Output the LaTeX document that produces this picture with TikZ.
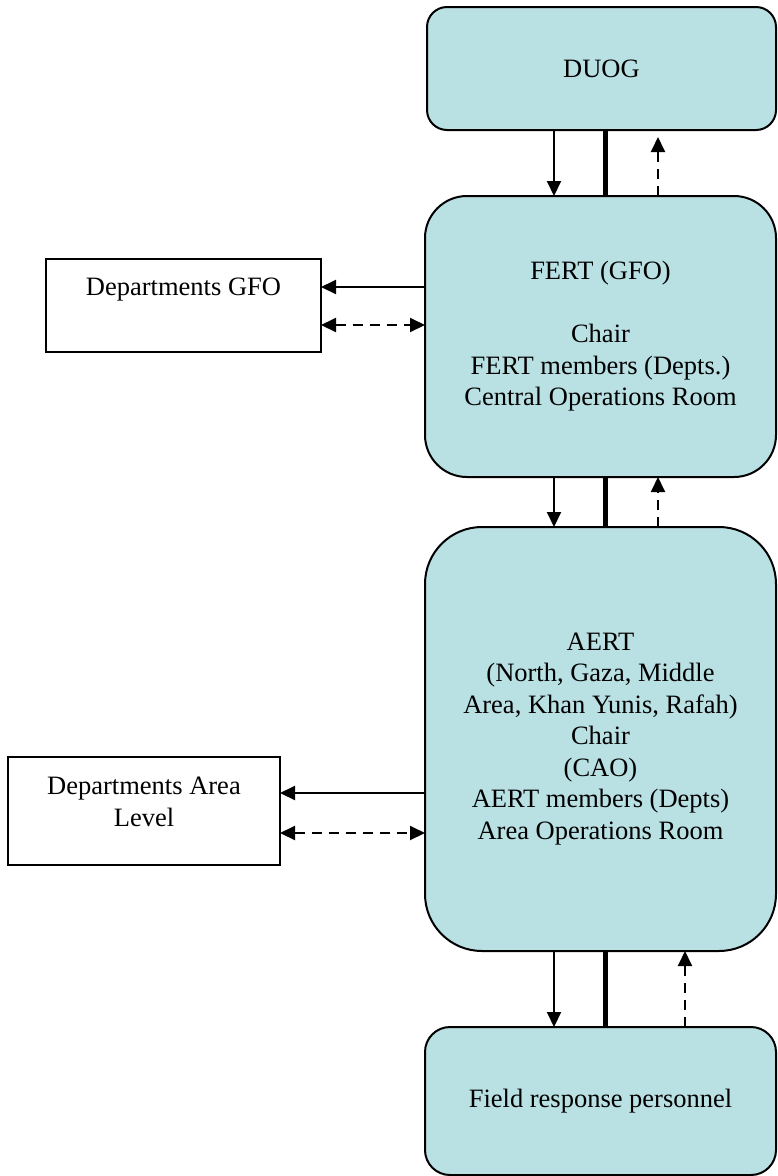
\documentclass[tikz,border=0pt]{standalone}
\usepackage{fontspec}
\setmainfont{Liberation Serif}
\usetikzlibrary{arrows.meta}
\definecolor{boxblue}{RGB}{185,224,227}

\begin{document}
\begin{tikzpicture}[x=1pt,y=-1pt,
		ertbox/.style={draw, fill=boxblue, line width=2pt, inner sep=0pt, outer sep=0pt,
			align=center, minimum width=351pt, font=\fontsize{26.5}{31.5}\selectfont},
		deptbox/.style={draw, line width=2pt, inner sep=0pt, outer sep=0pt,
			align=center, font=\fontsize{26.5}{31.5}\selectfont},
		downarrow/.style={line width=2pt, -{Triangle[length=15pt,width=14pt]}},
		feedback/.style={line width=2pt, dash pattern=on 10pt off 7pt, -{Triangle[length=15pt,width=14pt]}},
		twoway/.style={line width=2pt, dash pattern=on 10pt off 7pt,
			{Triangle[length=15pt,width=14pt]}-{Triangle[length=15pt,width=14pt]}},
		link/.style={line width=5pt}]
		\useasboundingbox (0,0) rectangle (777,1176);

		% teams
		\node[ertbox, minimum width=349pt, minimum height=123pt, rounded corners=20pt] (duog) at (601.5,68.5) {DUOG};
		\node[ertbox, minimum height=281pt, rounded corners=42pt] (fert) at (600.5,336.5)
			{FERT (GFO)\\[31.5pt]Chair\\FERT members (Depts.)\\Central Operations Room};
		\node[ertbox, minimum height=424pt, rounded corners=57pt] (aert) at (600.5,739)
			{AERT\\(North, Gaza, Middle\\Area, Khan Yunis, Rafah)\\Chair\\(CAO)\\AERT members (Depts)\\Area Operations Room};
		\node[ertbox, minimum height=148pt, rounded corners=25pt] (field) at (600.5,1101) {Field response personnel};

		% departments
		\node[deptbox, minimum width=275pt, minimum height=93pt, text height=18pt, text depth=38pt] (depgfo) at (183.5,305.5) {Departments GFO};
		\node[deptbox, minimum width=272pt, minimum height=108pt, text height=49.5pt, text depth=19.5pt] (deparea) at (144,811) {Departments Area\\Level};

		% x and y of the connectors
		\coordinate (xdown) at (554,0);
		\coordinate (xlink) at (605,0);
		\coordinate (xup) at (658,0);
		\coordinate (xupb) at (685,0);
		\coordinate (ygfo) at (0,287);
		\coordinate (ygfob) at (0,325);
		\coordinate (yarea) at (0,793);
		\coordinate (yareab) at (0,833);

		%DUOG - FERT
		\draw[downarrow] (duog.south -| xdown) -- (fert.north -| xdown);
		\draw[link] (duog.south -| xlink) -- (fert.north -| xlink);
		\draw[feedback] (fert.north -| xup) -- ([yshift=-7pt]duog.south -| xup);

		%FERT - AERT
		\draw[downarrow] (fert.south -| xdown) -- (aert.north -| xdown);
		\draw[link] (fert.south -| xlink) -- (aert.north -| xlink);
		\draw[feedback] (aert.north -| xup) -- (fert.south -| xup);

		%AERT - field
		\draw[downarrow] (aert.south -| xdown) -- (field.north -| xdown);
		\draw[link] (aert.south -| xlink) -- (field.north -| xlink);
		\draw[feedback] (field.north -| xupb) -- (aert.south -| xupb);

		%departments
		\draw[downarrow] (fert.west |- ygfo) -- (depgfo.east |- ygfo);
		\draw[twoway] (depgfo.east |- ygfob) -- (fert.west |- ygfob);
		\draw[downarrow] (aert.west |- yarea) -- (deparea.east |- yarea);
		\draw[twoway] (deparea.east |- yareab) -- (aert.west |- yareab);
	\end{tikzpicture}
\end{document}
